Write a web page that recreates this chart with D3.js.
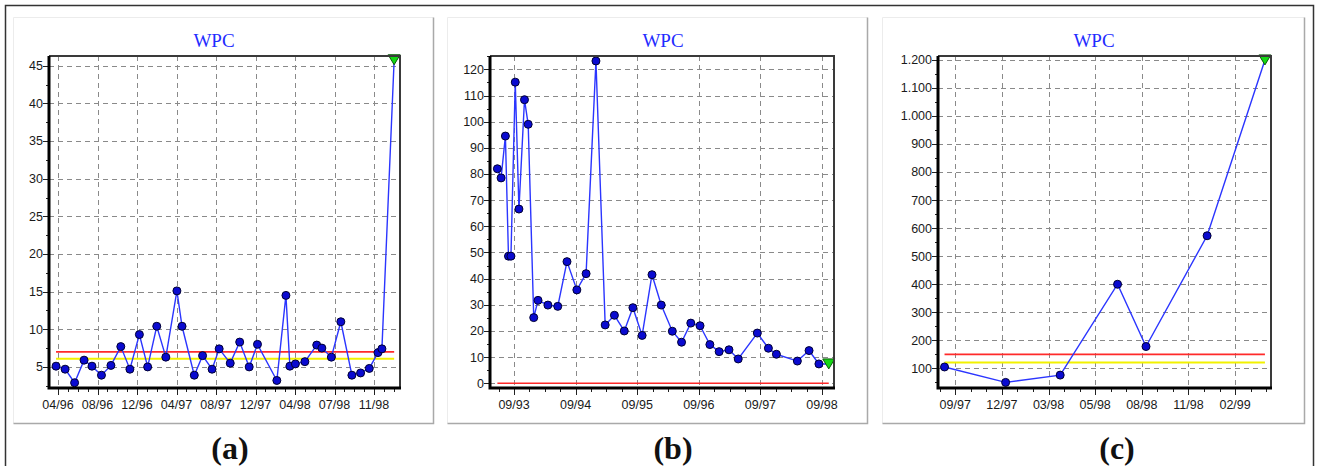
<!DOCTYPE html>
<html>
<head>
<meta charset="utf-8">
<script src="https://cdn.jsdelivr.net/npm/d3@7"></script>
<style>
  body { margin: 0; background: #fff; }
  svg { display: block; }
</style>
</head>
<body>
<div id="okvir"></div>
<script>
// panel (a) - positions are in x-tick units (0 = first label)
const ticksA = ["04/96", "08/96", "12/96", "04/97", "08/97", "12/97", "04/98", "07/98", "11/98"]
const posA = [-0.05, 0.18, 0.42, 0.66, 0.86, 1.10, 1.34, 1.59, 1.82, 2.06, 2.27, 2.50, 2.73, 3.01, 3.14,
  3.45, 3.66, 3.90, 4.08, 4.36, 4.60, 4.84, 5.05, 5.54, 5.77, 5.87, 6.01, 6.25, 6.55, 6.68, 6.92,
  7.16, 7.44, 7.66, 7.88, 8.10, 8.20, 8.51]
const wpcA = [5.1, 4.7, 2.9, 5.9, 5.1, 3.9, 5.2, 7.7, 4.7, 9.3, 5.0, 10.4, 6.3, 15.1, 10.4,
  3.9, 6.5, 4.7, 7.4, 5.5, 8.3, 5.0, 8.0, 3.2, 14.5, 5.1, 5.4, 5.7, 7.9, 7.5, 6.3,
  11.0, 3.9, 4.2, 4.8, 6.9, 7.4, 45.8]
const limitA = { red: 7.0, yellow: 6.1 }

// panel (b)
const ticksB = ["09/93", "09/94", "09/95", "09/96", "09/97", "09/98"]
const posB = [-0.27, -0.21, -0.14, -0.09, -0.05, 0.02, 0.08, 0.17, 0.23, 0.32, 0.39, 0.55, 0.71, 0.86,
  1.02, 1.17, 1.33, 1.48, 1.63, 1.79, 1.93, 2.08, 2.24, 2.39, 2.57, 2.72, 2.87, 3.02, 3.18,
  3.33, 3.49, 3.64, 3.95, 4.13, 4.26, 4.60, 4.79, 4.95, 5.11]
const wpcB = [82.0, 78.5, 94.5, 48.6, 48.6, 115.1, 66.6, 108.4, 99.0, 25.1, 31.7, 29.9, 29.4, 46.5,
  35.7, 41.9, 123.2, 22.3, 26.0, 20.0, 28.9, 18.3, 41.5, 29.9, 19.9, 15.7, 23.0, 22.0, 14.8,
  12.1, 12.8, 9.3, 19.2, 13.4, 11.1, 8.5, 12.5, 7.4, 7.4]
const limitB = { red: 0 }

// panel (c)
const ticksC = ["09/97", "12/97", "03/98", "05/98", "08/98", "11/98", "02/99"]
const posC = [-0.23, 1.08, 2.25, 3.48, 4.09, 5.40, 6.64]
const wpcC = [105, 50, 76, 400, 178, 573, 1200]
const limitC = { red: 150, yellow: 121 }

const W = 1317, H = 466

const svg = d3.select("#okvir").append("svg")
  .attr("width", W)
  .attr("height", H)

// outer frame
svg.append("path")
  .attr("d", "M5.5,466 V5.5 H1313.5 V466")
  .attr("fill", "none")
  .attr("stroke", "#333")
  .attr("stroke-width", 1.5)

const fmtDot = d3.formatLocale({ decimal: ",", thousands: ".", grouping: [3], currency: ["", ""] }).format(",d")

const paneli = [
  { box: [13, 433], plot: [49, 400], xDom: [-0.228, 8.658], yDom: [2.2, 46.3],
    yTicks: d3.range(5, 46, 5), yMinor: 2.5, xMinorPer: 4, ticks: ticksA, pos: posA, vals: wpcA,
    lim: limitA, fmt: d3.format("d"), label: "(a)", labelX: 230, titleX: 214 },
  { box: [447, 867], plot: [490, 834], xDom: [-0.39, 5.195], yDom: [-1.8, 125.1],
    yTicks: d3.range(0, 121, 10), yMinor: 5, xMinorPer: 4, ticks: ticksB, pos: posB, vals: wpcB,
    lim: limitB, fmt: d3.format("d"), label: "(b)", labelX: 673, titleX: 663 },
  { box: [882, 1304], plot: [938, 1271], xDom: [-0.37, 6.77], yDom: [30, 1214],
    yTicks: d3.range(100, 1201, 100), yMinor: 50, xMinorPer: 3, ticks: ticksC, pos: posC, vals: wpcC,
    lim: limitC, fmt: fmtDot, label: "(c)", labelX: 1117, titleX: 1094 },
]

const vrh = 56, dno = 388

paneli.forEach(p => {
  const g = svg.append("g")
  const [bx0, bx1] = p.box

  // panel box (light top/left, darker right/bottom)
  g.append("path").attr("d", `M${bx0 + 0.5},423.5 V17.5 H${bx1 + 0.5}`)
    .attr("fill", "none").attr("stroke", "#ececec").attr("stroke-width", 1)
  g.append("path").attr("d", `M${bx1 + 0.5},17.5 V423.5 H${bx0 + 0.5}`)
    .attr("fill", "none").attr("stroke", "#a9a9a9").attr("stroke-width", 1.5)

  const x = d3.scaleLinear().domain(p.xDom).range(p.plot)
  const y = d3.scaleLinear().domain(p.yDom).range([dno, vrh])
  const [px0, px1] = p.plot

  // title
  g.append("text")
    .attr("x", p.titleX)
    .attr("y", 47)
    .attr("text-anchor", "middle")
    .attr("font-family", "Liberation Serif, serif")
    .attr("font-size", 19)
    .attr("fill", "#1f2dff")
    .text("WPC")

  // grid
  const dash = "5,4"
  g.selectAll(".hgrid").data(p.yTicks).enter().append("line")
    .attr("x1", px0).attr("x2", px1)
    .attr("y1", d => Math.round(y(d)) + 0.5).attr("y2", d => Math.round(y(d)) + 0.5)
    .attr("stroke", "#8a8a8a").attr("stroke-dasharray", dash)
  g.selectAll(".vgrid").data(p.ticks).enter().append("line")
    .attr("x1", (d, i) => Math.round(x(i)) + 0.5).attr("x2", (d, i) => Math.round(x(i)) + 0.5)
    .attr("y1", vrh).attr("y2", dno)
    .attr("stroke", "#8a8a8a").attr("stroke-dasharray", dash)

  // y ticks + minor ticks
  const yAll = d3.range(Math.ceil(p.yDom[0] / p.yMinor), Math.floor(p.yDom[1] / p.yMinor) + 1)
    .map(k => k * p.yMinor)
  g.selectAll(".ymin").data(yAll).enter().append("line")
    .attr("x1", d => p.yTicks.includes(d) ? px0 - 6 : px0 - 3).attr("x2", px0)
    .attr("y1", d => Math.round(y(d)) + 0.5).attr("y2", d => Math.round(y(d)) + 0.5)
    .attr("stroke", "#222")
  g.selectAll(".ylab").data(p.yTicks).enter().append("text")
    .attr("x", px0 - 6)
    .attr("y", d => y(d))
    .attr("dy", "0.35em")
    .attr("text-anchor", "end")
    .attr("font-family", "Liberation Sans, Arial, sans-serif")
    .attr("font-size", 12.5)
    .attr("fill", "#1a1a1a")
    .text(d => p.fmt(d))

  // x ticks + minor
  const xAll = d3.range(Math.ceil(p.xDom[0] * p.xMinorPer), Math.floor(p.xDom[1] * p.xMinorPer) + 1)
    .map(k => k / p.xMinorPer)
  g.selectAll(".xmin").data(xAll).enter().append("line")
    .attr("x1", d => Math.round(x(d)) + 0.5).attr("x2", d => Math.round(x(d)) + 0.5)
    .attr("y1", dno)
    .attr("y2", d => Number.isInteger(d) && d < p.ticks.length ? dno + 7 : dno + 4)
    .attr("stroke", "#222")
  g.selectAll(".xlab").data(p.ticks).enter().append("text")
    .attr("x", (d, i) => x(i))
    .attr("y", 409)
    .attr("text-anchor", "middle")
    .attr("font-family", "Liberation Sans, Arial, sans-serif")
    .attr("font-size", 12.5)
    .attr("fill", "#1a1a1a")
    .text(d => d)

  // limit lines
  const lx0 = x(p.pos[0]), lx1 = x(p.pos[p.pos.length - 1])
  if (p.lim.yellow !== undefined) {
    g.append("line").attr("x1", lx0).attr("x2", lx1)
      .attr("y1", y(p.lim.yellow)).attr("y2", y(p.lim.yellow))
      .attr("stroke", "#f2f200").attr("stroke-width", 2)
  }
  g.append("line").attr("x1", lx0).attr("x2", lx1)
    .attr("y1", y(p.lim.red)).attr("y2", y(p.lim.red))
    .attr("stroke", "#ff2a2a").attr("stroke-width", 1.6)

  // series
  const pts = p.pos.map((v, i) => [v, p.vals[i]])
  const linija = d3.line().x(d => x(d[0])).y(d => y(d[1]))
  g.append("path")
    .attr("d", linija(pts))
    .attr("fill", "none")
    .attr("stroke", "#2b35ff")
    .attr("stroke-width", 1.4)

  g.selectAll(".tocka").data(pts.slice(0, -1)).enter().append("circle")
    .attr("cx", d => x(d[0])).attr("cy", d => y(d[1]))
    .attr("r", 4)
    .attr("fill", "#0a0ad0")
    .attr("stroke", "#000033")
    .attr("stroke-width", 1)

  const last = pts[pts.length - 1]
  const tx = x(last[0]), ty = y(last[1])
  g.append("path")
    .attr("d", `M${tx - 6},${ty - 5} L${tx + 6},${ty - 5} L${tx},${ty + 5} Z`)
    .attr("fill", "#14d814")
    .attr("stroke", "#0a5a0a")
    .attr("stroke-width", 1)

  // plot frame: black left/bottom, dark top/right
  g.append("path").attr("d", `M${px0},${vrh} H${px1} V${dno}`)
    .attr("fill", "none").attr("stroke", "#3a3a3a").attr("stroke-width", 2)
  g.append("path").attr("d", `M${px0},${vrh} V${dno} H${px1 + 1}`)
    .attr("fill", "none").attr("stroke", "#000").attr("stroke-width", 3)

  // panel label
  g.append("text")
    .attr("x", p.labelX)
    .attr("y", 459)
    .attr("text-anchor", "middle")
    .attr("font-family", "Liberation Serif, serif")
    .attr("font-weight", "bold")
    .attr("font-size", 32)
    .attr("fill", "#111")
    .text(p.label)
})
</script>
</body>
</html>
